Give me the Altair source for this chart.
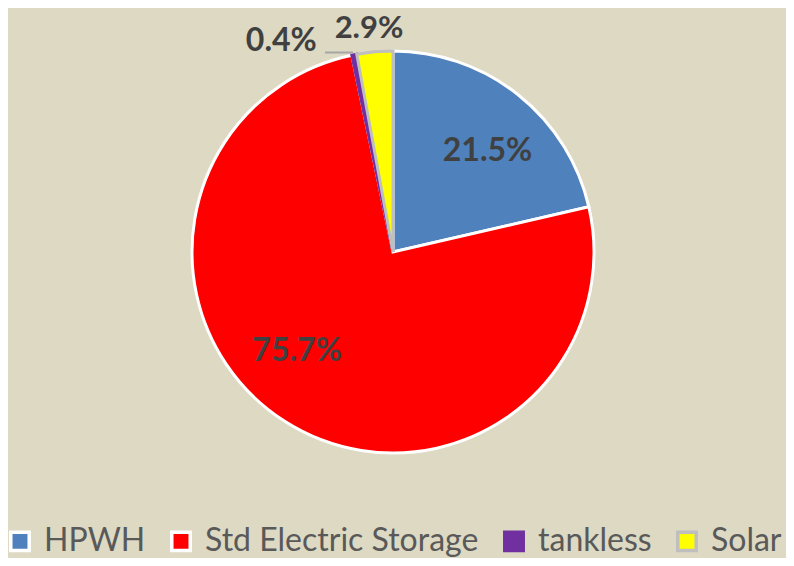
import altair as alt
import pandas as pd

categories = ["HPWH", "Std Electric Storage", "tankless", "Solar"]
values = [21.5, 75.7, 0.4, 2.9]
labels = ["21.5%", "75.7%", "0.4%", "2.9%"]
order = [1, 2, 3, 4]

fills = ["#4F81BD", "#FF0000", "#7030A0", "#FFFF00"]
strokes = ["#FFFFFF", "#FFFFFF", "#7030A0", "#BFBFBF"]

df = pd.DataFrame({"cat": categories, "val": values, "lab": labels, "ord": order})

CX, CY = 385, 244
R = 201

base = alt.Chart(df).encode(
    theta=alt.Theta("val:Q", stack=True),
    order=alt.Order("ord:Q"),
    x=alt.value(CX),
    y=alt.value(CY),
)

color = alt.Color(
    "cat:N",
    scale=alt.Scale(domain=categories, range=fills),
    legend=alt.Legend(
        title=None,
        orient="none",
        direction="horizontal",
        legendX=-4,
        legendY=517,
        symbolType="square",
        symbolSize=340,
        symbolStrokeWidth=3.5,
        symbolOpacity=1,
        labelFont="Lato",
        labelFontSize=32,
        labelColor="#595959",
        labelOffset=8,
        columnPadding=18,
        labelLimit=400,
    ),
)

pie = base.mark_arc(radius=R, strokeWidth=3, opacity=1).encode(
    color=color,
    stroke=alt.Stroke("cat:N", scale=alt.Scale(domain=categories, range=strokes)),
)

def text_layer(cat, radius, dx=0, dy=0, size=32):
    return base.mark_text(
        radius=radius,
        dx=dx,
        dy=dy,
        font="Lato",
        fontWeight="bold",
        fontSize=size,
        color="#404040",
        baseline="middle",
        align="center",
    ).encode(
        text=alt.Text("shown:N")
    ).transform_calculate(
        shown=f"datum.cat === '{cat}' ? datum.lab : ''"
    )

t1 = text_layer("HPWH", 139, dx=8, dy=8)
t2 = text_layer("Std Electric Storage", 139, dx=-21, dy=-18)
t3 = text_layer("tankless", 232, dx=-67, dy=17)
t4 = text_layer("Solar", 232, dx=-3, dy=8, size=31)

leader = alt.Chart(df).mark_rule(color="#A6A6A6", strokeWidth=2).encode(
    x=alt.value(317), x2=alt.value(345), y=alt.value(44.5)
).transform_filter("datum.cat === 'tankless'")

chart = alt.layer(pie, leader, t1, t2, t3, t4).properties(
    width=778,
    height=550,
    autosize=alt.AutoSizeParams(type="none"),
    padding=0,
    background="#DDD9C3",
).configure_view(stroke=None)

chart.save("out.html", embed_options={"renderer": "svg", "actions": False})
